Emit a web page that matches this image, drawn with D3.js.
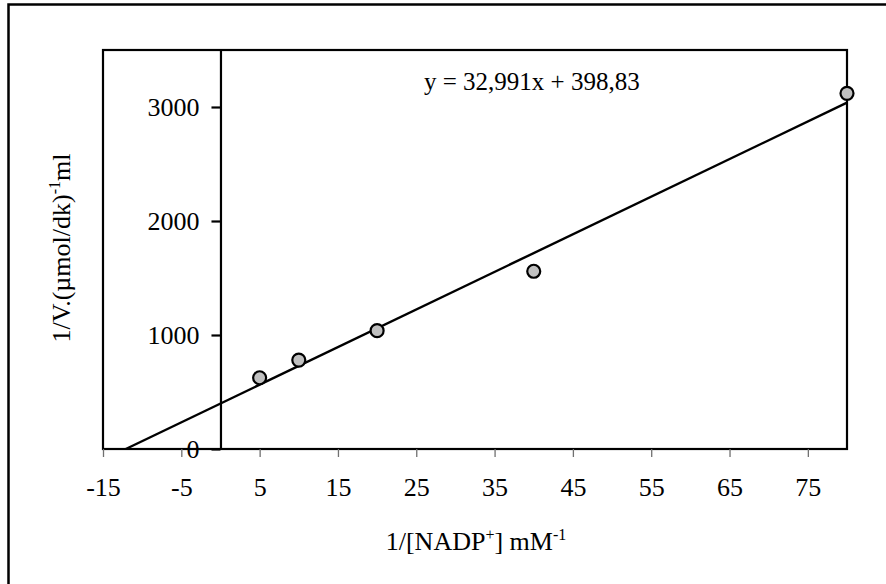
<!DOCTYPE html>
<html>
<head>
<meta charset="utf-8">
<script src="https://cdn.jsdelivr.net/npm/d3@7"></script>
<style>
  body { margin: 0; background: #fff; }
  svg text { font-family: "Liberation Serif", "Times New Roman", serif; fill: #000; }
</style>
</head>
<body>
<svg id="chart" width="886" height="584"></svg>
<script>
// donnees (Lineweaver-Burk)
const xValues = [5, 10, 20, 40, 80];
const yValues = [625, 780, 1038, 1559, 3120];
const xTicks = [-15, -5, 5, 15, 25, 35, 45, 55, 65, 75];
const yTicks = [0, 1000, 2000, 3000];
const slope = 32.991;
const intercept = 398.83;
const equationLabel = "y = 32,991x + 398,83";

let svg = d3.select("#chart");

// cadre exterieur (coupe a droite et en bas)
svg.append("rect")
    .attr("x", 8.5).attr("y", 4.5)
    .attr("width", 900).attr("height", 600)
    .attr("fill", "none")
    .attr("stroke", "#000")
    .attr("stroke-width", 2.5);

let x = d3.scaleLinear().domain([-15, 80]).range([103, 847]);
let y = d3.scaleLinear().domain([0, 3500]).range([449, 50]);

// zone du graphe
svg.append("rect")
    .attr("x", x(-15)).attr("y", y(3500))
    .attr("width", x(80) - x(-15)).attr("height", y(0) - y(3500))
    .attr("fill", "none")
    .attr("stroke", "#000")
    .attr("stroke-width", 2.2);

// axe x en bas
let xAxis = svg.append("g")
    .attr("transform", "translate(0," + y(0) + ")")
    .call(d3.axisBottom(x).tickValues(xTicks).tickSize(8).tickPadding(21).tickFormat(d => String(d)));
xAxis.select(".domain").remove();
xAxis.selectAll(".tick line").attr("stroke", "#707070").attr("stroke-width", 1.3);
xAxis.selectAll(".tick text").style("font-size", "26px");

// axe y qui passe par x = 0
let yAxis = svg.append("g")
    .attr("transform", "translate(" + x(0) + ",0)")
    .call(d3.axisLeft(y).tickValues(yTicks).tickSize(9).tickSizeOuter(0).tickPadding(12).tickFormat(d => String(d)));
yAxis.select(".domain").attr("stroke-width", 2.2);
yAxis.selectAll(".tick line").attr("stroke-width", 2.2);
yAxis.selectAll(".tick text").style("font-size", "26px");

// droite de regression
let x0 = -intercept / slope;
let lineGen = d3.line().x(d => x(d[0])).y(d => y(d[1]));
svg.append("path")
    .attr("d", lineGen([[x0, 0], [80, slope * 80 + intercept]]))
    .attr("fill", "none")
    .attr("stroke", "#000")
    .attr("stroke-width", 2.4);

// points
svg.append("g").selectAll("circle")
    .data(xValues.map((v, i) => [v, yValues[i]]))
    .join("circle")
    .attr("cx", d => x(d[0]))
    .attr("cy", d => y(d[1]))
    .attr("r", 6.5)
    .attr("fill", "#c0c0c0")
    .attr("stroke", "#000")
    .attr("stroke-width", 2.2);

// equation
svg.append("text")
    .attr("x", 424).attr("y", 90)
    .style("font-size", "25px")
    .text(equationLabel);

// titre axe x
let xt = svg.append("text")
    .attr("x", 476).attr("y", 550)
    .attr("text-anchor", "middle")
    .style("font-size", "26px");
xt.append("tspan").text("1/[NADP");
xt.append("tspan").attr("dy", -10).style("font-size", "16px").text("+");
xt.append("tspan").attr("dy", 10).text("] mM");
xt.append("tspan").attr("dy", -10).style("font-size", "16px").text("-1");

// titre axe y
let yt = svg.append("text")
    .attr("transform", "translate(70,248) rotate(-90)")
    .attr("text-anchor", "middle")
    .style("font-size", "26px");
yt.append("tspan").text("1/V.(µmol/dk)");
yt.append("tspan").attr("dy", -10).style("font-size", "16px").text("-1");
yt.append("tspan").attr("dy", 10).text("ml");
</script>
</body>
</html>
